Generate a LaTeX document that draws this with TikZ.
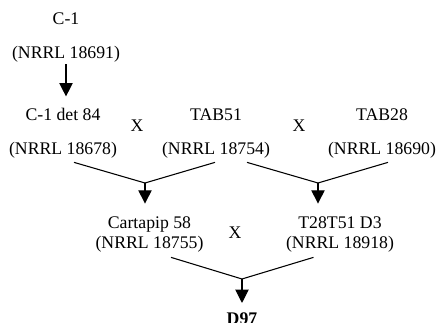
\documentclass[tikz,border=0pt]{standalone}
\usepackage{fontspec}
\setmainfont{Liberation Serif}
\usetikzlibrary{positioning,calc,arrows.meta}

\begin{document}
\begin{tikzpicture}[
  x=0.75pt, y=-0.75pt,
  strain/.style={align=center, inner sep=1pt, anchor=base, font=\fontsize{13.3}{16}\selectfont},
  cross/.style={inner sep=1pt, anchor=base, font=\fontsize{13.3}{16}\selectfont},
  link/.style={line width=0.8pt},
  arrow/.style={-{Triangle[width=10pt,length=10pt]}, line width=0.8pt},
]
\useasboundingbox (0,0) rectangle (437,323);
% parent strains
\node[strain] (c1) at (66,59) {C-1\\[9.5pt](NRRL 18691)};
\node[strain] (det84) at (63,155) {C-1 det 84\\[9.5pt](NRRL 18678)};
\node[strain] (tab51) at (216,155) {TAB51\\[9.5pt](NRRL 18754)};
\node[strain] (tab28) at (382,155) {TAB28\\[9.5pt](NRRL 18690)};
\node[cross] (x1) at (137,132) {X};
\node[cross] (x2) at (299,132) {X};
% first crosses
\node[strain] (cart58) at (149.5,249) {Cartapip 58\\[-1pt](NRRL 18755)};
\node[strain] (t28t51) at (340,249) {T28T51 D3\\[-1pt](NRRL 18918)};
\node[cross] (x3) at (235,239) {X};
% final
\node[strain, font=\fontsize{13.3}{16}\selectfont\bfseries] (d97) at (242,325) {D97};
\coordinate (j1) at (145,183);
\coordinate (j2) at (318,183);
\coordinate (j3) at (242,279);

\draw[arrow, shorten >=8pt] (c1.south) -- (c1.south |- det84.north);
\draw[link] ($(det84.south)+(11,2)$) -- (j1) -- ($(tab51.south)+(-1,2)$);
\draw[link] ($(tab51.south)+(31,2)$) -- (j2) -- ($(tab28.south)+(6,2)$);
\draw[arrow, shorten >=9pt] (j1) -- (j1 |- cart58.north);
\draw[arrow, shorten >=9pt] (j2) -- (j2 |- t28t51.north);
\draw[link] ($(cart58.south)+(21.5,3)$) -- (j3) -- ($(t28t51.south)+(-26.5,3)$);
\draw[arrow, shorten >=6.5pt] (j3) -- (j3 |- d97.north);
\end{tikzpicture}
\end{document}
